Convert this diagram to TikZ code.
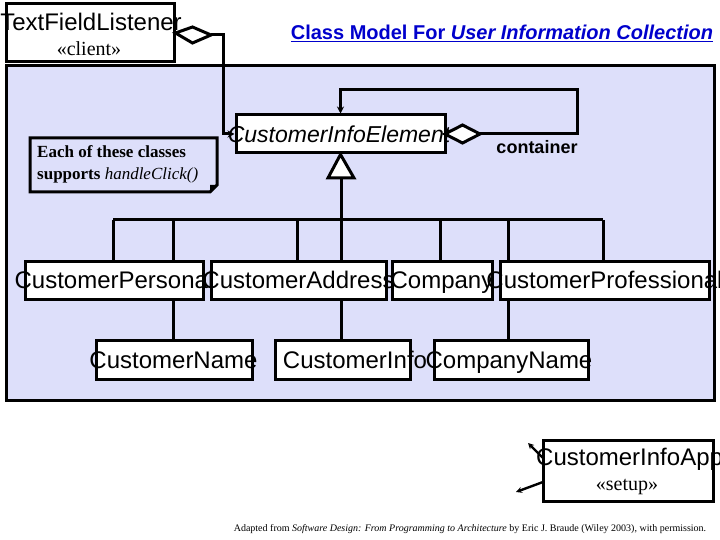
\documentclass[tikz,border=0pt]{standalone}
\usepackage{fontspec}
\setmainfont{Liberation Serif}
\newfontfamily\arial{Liberation Sans}
\usetikzlibrary{arrows.meta,calc}
\definecolor{panelblue}{RGB}{221,223,250}
\definecolor{titleblue}{RGB}{0,0,204}
\begin{document}
\begin{tikzpicture}[x=1pt,y=-1pt,line join=miter,
  cls/.style={draw,line width=3pt,fill=white,inner sep=0pt},
  clstext/.style={font=\arial\fontsize{24}{24}\selectfont,inner sep=0pt,text height=17pt,text depth=0pt},
  stereo/.style={font=\fontsize{20}{20}\selectfont,inner sep=0pt},
  conn/.style={line width=3pt},
  dia/.style={draw,line width=3pt,fill=white},
  tip/.style={-{Stealth[length=7pt,width=7pt]}}
]
\useasboundingbox (0,0) rectangle (720,540);

% panel
\node[draw,fill=panelblue,line width=3pt,minimum width=708pt,minimum height=334pt,inner sep=0pt] (panel) at (360,233) {};

% title
\node[font=\arial\bfseries\fontsize{20}{20}\selectfont,text=titleblue,inner sep=0pt] (title) at (502,33)
  {\underline{Class Model For \textit{User Information Collection}}};

% TextFieldListener
\node[cls,minimum width=168pt,minimum height=58pt] (tfl) at (90,33) {};
\node[clstext] (tflT) at (91,22) {TextFieldListener};
\node[stereo] (tflS) at (89,49) {«client»};
\draw[dia] (tfl.east) -- (192.5,27) -- (211,35) -- (192.5,43) -- cycle;
\coordinate (tflD) at (211,35);

% CustomerInfoElement
\node[cls,minimum width=209pt,minimum height=38pt] (cie) at (340.5,134) {};
\node[clstext,font=\arial\itshape\fontsize{23}{23}\selectfont,text height=16.5pt] (cieT) at (339,134) {CustomerInfoElement};
\draw[conn,tip] (tflD) -- (223,35) |- (cie.west);
\coordinate (cieD) at (480,134);
\draw[conn,tip] (cieD) -| (577,90) -| (cie.north);
\draw[dia] (445,134) -- (462.5,125) -- (cieD) -- (462.5,143) -- cycle;
\node[font=\arial\bfseries\fontsize{18}{18}\selectfont,inner sep=0pt] (cont) at (537,147) {container};

% generalization
\draw[dia] (cie.south) -- (354,178) -- (328,178) -- cycle;
\coordinate (gen) at (341,178);
\coordinate (busL) at (113,220);
\coordinate (busR) at (603,220);
\draw[conn] (gen) -- (341,220);
\draw[conn] (busL) -- (busR);

% note
\draw[line width=3pt] (30,138) -- (217,138) -- (217,185) -- (210,192) -- (30,192) -- cycle;
\fill (217,185) -- (210,192) -- (210,185) -- cycle;
\node[anchor=west,align=left,inner sep=0pt,font=\bfseries\fontsize{17}{22}\selectfont] (noteT) at (37,164)
  {Each of these classes\\supports {\mdseries\itshape handleClick()}};

% second row
\node[cls,minimum width=156pt,minimum height=39pt] (cn) at (174,359.5) {};
\node[cls,minimum width=135pt,minimum height=39pt] (ci) at (342.5,359.5) {};
\node[cls,minimum width=154pt,minimum height=39pt] (con) at (511,359.5) {};
\node[clstext] (cnT) at (173.5,359.5) {CustomerName};
\node[clstext] (ciT) at (355,359.5) {CustomerInfo};
\node[clstext] (conT) at (509,359.5) {CompanyName};

% drops from the bus
\draw[conn] (113,220) -- (113,261);
\draw[conn] (173,220) -- (173,0 |- cn.north);
\draw[conn] (297,220) -- (297,261);
\draw[conn] (341,220) -- (341,0 |- ci.north);
\draw[conn] (440,220) -- (440,261);
\draw[conn] (508,220) -- (508,0 |- con.north);
\draw[conn] (603,220) -- (603,261);

% first row
\node[cls,minimum width=178pt,minimum height=38pt] (cp) at (114,280) {};
\node[clstext] (cpT) at (114,280) {CustomerPersonal};
\node[cls,minimum width=175pt,minimum height=38pt] (ca) at (298.5,280) {};
\node[clstext] (caT) at (298.5,280) {CustomerAddress};
\node[cls,minimum width=100pt,minimum height=38pt] (co) at (442,280) {};
\node[clstext] (coT) at (442,280) {Company};
\node[cls,minimum width=209pt,minimum height=38pt] (cpr) at (604.5,280) {};
\node[clstext] (cprT) at (604.5,280) {CustomerProfessional};

% CustomerInfoApp
\node[cls,minimum width=170pt,minimum height=61pt] (app) at (628,470.5) {};
\node[clstext,anchor=west] (appT) at (536,457) {CustomerInfoApp};
\node[stereo] (appS) at (627,487) {«setup»};
\coordinate (u1) at (543,458);
\coordinate (u2) at (528,443);
\coordinate (l1) at (543,482);
\coordinate (l2) at (516,492);
\draw[line width=2.4pt,-{Stealth[length=6pt,width=6pt]}] (u1) -- (u2);
\draw[line width=2.4pt,-{Stealth[length=6pt,width=6pt]}] (l1) -- (l2);

% footer
\node[font=\fontsize{10}{10}\selectfont,inner sep=0pt] (foot) at (470,529)
  {Adapted from \textit{Software Design: From Programming to Architecture} by Eric J. Braude (Wiley 2003), with permission.};
\end{tikzpicture}
\end{document}
